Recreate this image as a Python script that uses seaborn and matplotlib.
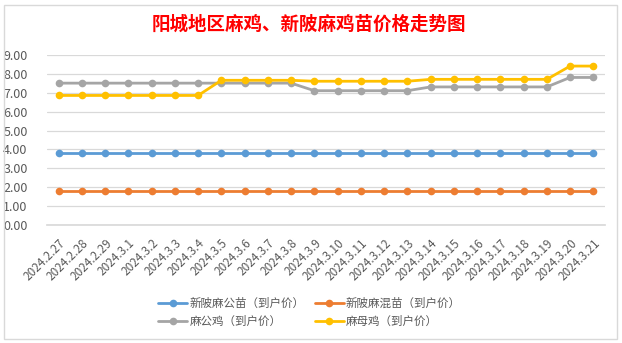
import matplotlib
matplotlib.use("Agg")
import matplotlib.pyplot as plt
import seaborn as sns
import pandas as pd
from matplotlib.patches import Rectangle
from matplotlib.lines import Line2D

dates = ["2024.2.27", "2024.2.28", "2024.2.29", "2024.3.1", "2024.3.2", "2024.3.3",
         "2024.3.4", "2024.3.5", "2024.3.6", "2024.3.7", "2024.3.8", "2024.3.9",
         "2024.3.10", "2024.3.11", "2024.3.12", "2024.3.13", "2024.3.14", "2024.3.15",
         "2024.3.16", "2024.3.17", "2024.3.18", "2024.3.19", "2024.3.20", "2024.3.21"]

xinling_gong_miao = [3.8] * 24
xinling_hun_miao = [1.8] * 24
ma_gong_ji = [7.5] * 11 + [7.1] * 5 + [7.3] * 6 + [7.8] * 2
ma_mu_ji = [6.85] * 7 + [7.65] * 4 + [7.6] * 5 + [7.7] * 6 + [8.4] * 2

series_names = ["新陂麻公苗（到户价）", "新陂麻混苗（到户价）", "麻公鸡（到户价）", "麻母鸡（到户价）"]
series_values = [xinling_gong_miao, xinling_hun_miao, ma_gong_ji, ma_mu_ji]
colors = ["#5B9BD5", "#ED7D31", "#A5A5A5", "#FFC000"]

title = "阳城地区麻鸡、新陂麻鸡苗价格走势图"

rows = []
for name, vals in zip(series_names, series_values):
    for i, (d, v) in enumerate(zip(dates, vals)):
        rows.append({"idx": i, "date": d, "series": name, "value": v})
df = pd.DataFrame(rows)

sns.set_theme(style="white")
plt.rcParams["font.family"] = ["Noto Sans CJK SC", "DejaVu Sans"]

fig = plt.figure(figsize=(6.22, 3.43), dpi=100)
fig.patch.set_facecolor("white")
fig.add_artist(Rectangle((4 / 622, 4 / 343), 613 / 622, 334 / 343, transform=fig.transFigure,
                         fill=False, edgecolor="#D9D9D9", linewidth=1.0))

ax = fig.add_axes([47 / 622, 1 - 225.3 / 343, (605 - 47) / 622, (225.3 - 54.7) / 343])
sns.lineplot(data=df, x="idx", y="value", hue="series", hue_order=series_names,
             palette=colors, marker="o", markersize=5.5, markeredgewidth=0,
             linewidth=2.0, ax=ax, legend=False)

ax.set_xlim(-0.5, len(dates) - 0.5)
ax.set_ylim(0, 9)
ax.set_yticks(range(0, 10))
ax.set_yticklabels([f"{v:.2f}" for v in range(0, 10)], fontsize=9, color="#595959")
ax.set_xticks(range(len(dates)))
ax.set_xticklabels(dates, rotation=45, ha="right", rotation_mode="anchor",
                   fontsize=8.5, color="#595959")
ax.tick_params(axis="x", length=0, pad=8)
ax.tick_params(axis="y", length=0, pad=14)
ax.grid(axis="y", color="#D9D9D9", linewidth=0.9)
ax.set_axisbelow(True)
for s in ax.spines.values():
    s.set_visible(False)
ax.spines["bottom"].set_visible(True)
ax.spines["bottom"].set_color("#D9D9D9")
ax.set_xlabel("")
ax.set_ylabel("")

fig.text(309 / 622, 1 - 24.5 / 343, title, ha="center", va="center", fontsize=13.3,
         color="#FF0000", fontweight="bold")

handles = [Line2D([], [], color=c, marker="o", markersize=5.5, markeredgewidth=0, linewidth=2.0)
           for c in colors]
order = [0, 2, 1, 3]
fig.legend([handles[i] for i in order], [series_names[i] for i in order],
           loc="center", bbox_to_anchor=(309.5 / 622, 1 - 312.5 / 343), ncol=2,
           frameon=False, fontsize=8.3, labelcolor="#595959", handlelength=2.5,
           handletextpad=0.2, columnspacing=0.9, labelspacing=0.45)

fig.savefig("out.png", dpi=100, facecolor="white")
